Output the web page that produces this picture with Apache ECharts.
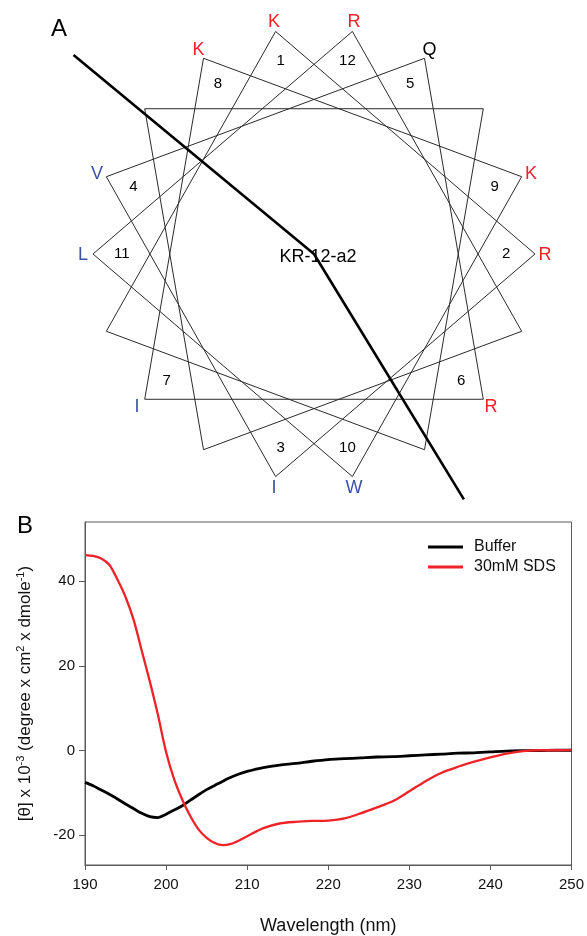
<!DOCTYPE html>
<html>
<head>
<meta charset="utf-8">
<script src="https://cdn.jsdelivr.net/npm/echarts@6/dist/echarts.min.js"></script>
<style>
html,body{margin:0;padding:0;background:#ffffff;}
#chart{width:587px;height:936px;}
</style>
</head>
<body>
<div id="chart"></div>
<script>
// ---------- Panel A: helical wheel data ----------
const residues = ['K','R','I','V','Q','R','I','K','K','W','L','R'];
const residueNumbers = ['1','2','3','4','5','6','7','8','9','10','11','12'];
// angular position (deg, clockwise from top) of the 18 wheel positions (100 deg per residue)
const wheelAngles = [-10, 90, 190, 290, 30, 130, 230, 330, 70, 170, 270, 10, 110, 210, 310, 50, 150, 250];
const peptideName = 'KR-12-a2';
// dividing line drawn from the wheel centre (angle in deg, length in wheel radii)
const dividerAngles = [309, 148];
const dividerLengths = [1.40, 1.28];
const cationicResidues = ['K','R','H'];
const hydrophobicResidues = ['I','V','L','W','F','A','M','Y'];

// ---------- Panel B: CD spectra ----------
const wavelength = [190,191,192,193,194,195,196,197,198,199,200,201,202,203,204,205,206,207,208,209,210,
                    212,214,216,218,220,222,224,226,228,230,232,234,236,238,240,242,244,246,248,250];
const bufferValues = [-7.5,-8.3,-9.3,-10.3,-11.4,-12.6,-13.7,-14.8,-15.6,-15.8,-15.0,-14.0,-13.0,-11.7,-10.4,-9.2,-8.2,-7.2,-6.3,-5.5,-4.9,
                      -4.0,-3.4,-3.0,-2.5,-2.1,-1.9,-1.7,-1.5,-1.4,-1.2,-1.0,-0.8,-0.6,-0.5,-0.3,-0.1,0.0,0.0,0.1,0.1];
const sdsValues = [46.2,46.0,45.4,43.9,40.4,36.3,30.9,23.6,16.3,8.4,-0.3,-6.8,-11.6,-15.5,-18.6,-20.6,-21.8,-22.3,-22.0,-21.2,-20.2,
                   -18.3,-17.2,-16.8,-16.6,-16.5,-16.0,-14.8,-13.4,-11.9,-9.6,-7.2,-5.2,-3.8,-2.6,-1.6,-0.7,-0.1,0.1,0.1,0.2];
const seriesNames = ['Buffer','30mM SDS'];
const yTickValues = [-20, 0, 20, 40];

// ---------- helpers ----------
const FONT = "'Liberation Sans', Arial, Helvetica, sans-serif";
const RED = '#ee2227';
const BLUE = '#3a53a6';
const rad = a => a * Math.PI / 180;
const polar = (r, a) => [r * Math.sin(rad(a)), r * Math.cos(rad(a))];
const residueColor = res => cationicResidues.includes(res) ? RED : (hydrophobicResidues.includes(res) ? BLUE : '#000000');

const wheelData = wheelAngles.map(a => polar(1, a));
wheelData.push(polar(1, wheelAngles[0]));
const dividerData = [polar(dividerLengths[0], dividerAngles[0]), [0, 0], polar(dividerLengths[1], dividerAngles[1])];
const letterData = residues.map((res, i) => ({
  value: polar(1.045, wheelAngles[i]),
  label: { color: residueColor(res) }
}));
const numberData = residueNumbers.map((n, i) => polar(0.87, wheelAngles[i]));

const textSeries = (data, label, z) => ({
  type: 'scatter', xAxisIndex: 0, yAxisIndex: 0, data: data,
  symbolSize: 0, clip: false, silent: true,
  itemStyle: { opacity: 1, color: '#000' },
  label: Object.assign({ show: true, position: 'inside', fontFamily: FONT, textBorderWidth: 0, opacity: 1 }, label),
  emphasis: { disabled: true }, z: z
});

const chart = echarts.init(document.getElementById('chart'), null, { renderer: 'canvas' });
chart.setOption({
  animation: false,
  backgroundColor: '#ffffff',
  textStyle: { fontFamily: FONT },
  grid: [
    { left: 26.7, top: 5.4, width: 552.5, height: 519.8, show: false },
    { left: 85, top: 522, width: 488, height: 344, show: true, borderColor: '#5a5a5a', borderWidth: 1, backgroundColor: 'transparent' }
  ],
  xAxis: [
    { gridIndex: 0, type: 'value', min: -1.3, max: 1.2, show: false },
    {
      gridIndex: 1, type: 'value', min: 190, max: 250, interval: 10,
      axisLine: { show: true, onZero: false, lineStyle: { color: '#5a5a5a', width: 1 } },
      axisTick: { show: true, length: 5, lineStyle: { color: '#5a5a5a' } },
      axisLabel: { fontSize: 15, color: '#111', margin: 12, fontFamily: FONT },
      splitLine: { show: false },
      name: 'Wavelength (nm)', nameLocation: 'middle', nameGap: 52,
      nameTextStyle: { fontSize: 18, color: '#111', fontFamily: FONT }
    }
  ],
  yAxis: [
    { gridIndex: 0, type: 'value', min: -1.2, max: 1.1, show: false },
    {
      gridIndex: 1, type: 'value', min: -27, max: 54,
      axisLine: { show: true, onZero: false, lineStyle: { color: '#5a5a5a', width: 1 } },
      axisTick: { show: true, length: 6, customValues: yTickValues, lineStyle: { color: '#5a5a5a' } },
      axisLabel: { fontSize: 15, color: '#111', margin: 10, customValues: yTickValues, fontFamily: FONT },
      splitLine: { show: false },
      name: '[θ] x 10{sup|-3} (degree x cm{sup|2} x dmole{sup|-1})',
      nameLocation: 'middle', nameRotate: 90, nameGap: 50,
      nameTextStyle: {
        fontSize: 17, color: '#111', fontFamily: FONT,
        rich: { sup: { fontSize: 11, color: '#111', verticalAlign: 'top', fontFamily: FONT, lineHeight: 20 } }
      }
    }
  ],
  legend: {
    data: seriesNames,
    orient: 'vertical',
    left: 428, top: 539,
    padding: 0,
    icon: 'rect',
    itemWidth: 35, itemHeight: 3, itemGap: 4,
    textStyle: { fontSize: 16, color: '#111', fontFamily: FONT, padding: [0, 0, 0, 6], lineHeight: 16 }
  },
  graphic: [
    { type: 'text', left: 51, top: 17, style: { text: 'A', font: '24px ' + FONT, fill: '#000' } },
    { type: 'text', left: 17, top: 514, style: { text: 'B', font: '24px ' + FONT, fill: '#000' } }
  ],
  series: [
    {
      type: 'line', xAxisIndex: 0, yAxisIndex: 0, data: wheelData,
      symbol: 'none', clip: false, silent: true,
      lineStyle: { color: '#2a2a2a', width: 1 }, z: 2
    },
    {
      type: 'line', xAxisIndex: 0, yAxisIndex: 0, data: dividerData,
      symbol: 'none', clip: false, silent: true,
      lineStyle: { color: '#000', width: 2.6 }, z: 3
    },
    textSeries(letterData, { offset: [0, 1], fontSize: 18, formatter: p => residues[p.dataIndex] }, 5),
    textSeries(numberData, { fontSize: 15, color: '#000', formatter: p => residueNumbers[p.dataIndex] }, 5),
    textSeries([[0, 0]], { offset: [4, 3], fontSize: 18, color: '#000', formatter: peptideName }, 6),
    {
      name: seriesNames[0], type: 'line', xAxisIndex: 1, yAxisIndex: 1,
      data: wavelength.map((w, i) => [w, bufferValues[i]]),
      symbol: 'none', showSymbol: false, smooth: 0.3,
      color: '#000', lineStyle: { color: '#000', width: 2.8 }, z: 4
    },
    {
      name: seriesNames[1], type: 'line', xAxisIndex: 1, yAxisIndex: 1,
      data: wavelength.map((w, i) => [w, sdsValues[i]]),
      symbol: 'none', showSymbol: false, smooth: 0.3,
      color: RED, lineStyle: { color: RED, width: 2.3 }, z: 4
    }
  ]
});
</script>
</body>
</html>
